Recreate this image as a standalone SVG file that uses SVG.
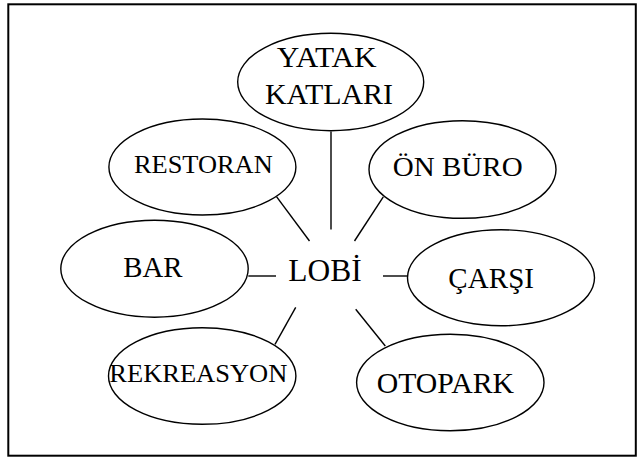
<svg xmlns="http://www.w3.org/2000/svg" width="637" height="457" viewBox="0 0 637 457">
<style>
.n ellipse{fill:#fff;stroke:#000;stroke-width:1.4}
.t{font-family:'Liberation Serif',Tinos,'Times New Roman',Times,serif;fill:#000}
.c line{stroke:#000;stroke-width:1.4}
</style>
<rect x="0" y="0" width="637" height="457" fill="#fff"/>
<rect x="8.3" y="4.3" width="627.5" height="451.4" fill="none" stroke="#000" stroke-width="2"/>
<g class="c" id="connectors">
<line x1="331" y1="131.5" x2="331" y2="229.5"/>
<line x1="276.5" y1="196.7" x2="309.5" y2="241"/>
<line x1="383.3" y1="196.8" x2="354.5" y2="241"/>
<line x1="248.3" y1="276" x2="276" y2="276"/>
<line x1="383" y1="276" x2="407.7" y2="276"/>
<line x1="295.7" y1="307.3" x2="275" y2="344.3"/>
<line x1="355.7" y1="309.3" x2="385.3" y2="346"/>
</g>
<g class="n" id="yatak"><ellipse cx="330.7" cy="82" rx="93" ry="48.7"/>
<text class="t" x="276.7" y="67.3" font-size="29" textLength="100" lengthAdjust="spacingAndGlyphs">YATAK</text>
<text class="t" x="265" y="104" font-size="29" textLength="128" lengthAdjust="spacingAndGlyphs">KATLARI</text></g>
<g class="n" id="restoran"><ellipse cx="202.4" cy="167" rx="93.5" ry="48"/>
<text class="t" x="134" y="173.3" font-size="25.5" textLength="138.7" lengthAdjust="spacingAndGlyphs">RESTORAN</text></g>
<g class="n" id="onburo"><ellipse cx="462.5" cy="169.5" rx="93.5" ry="48.8"/>
<text class="t" x="392.7" y="176" font-size="27" textLength="130" lengthAdjust="spacingAndGlyphs">ÖN BÜRO</text></g>
<g class="n" id="bar"><ellipse cx="154.5" cy="268.7" rx="93.7" ry="48.5"/>
<text class="t" x="123.3" y="277.3" font-size="29" textLength="59.3" lengthAdjust="spacingAndGlyphs">BAR</text></g>
<g id="lobi"><text class="t" x="288.3" y="280.7" font-size="31" textLength="73.4" lengthAdjust="spacingAndGlyphs">LOBİ</text></g>
<g class="n" id="carsi"><ellipse cx="501" cy="277.8" rx="93.5" ry="48"/>
<text class="t" x="448.3" y="288.3" font-size="29" textLength="85.7" lengthAdjust="spacing">ÇARŞI</text></g>
<g class="n" id="rekreasyon"><ellipse cx="202.2" cy="376" rx="93.7" ry="48.3"/>
<text class="t" x="109.3" y="381.7" font-size="26" textLength="178" lengthAdjust="spacingAndGlyphs">REKREASYON</text></g>
<g class="n" id="otopark"><ellipse cx="450.3" cy="382.5" rx="93.7" ry="48.2"/>
<text class="t" x="376.7" y="392.7" font-size="29" textLength="137.3" lengthAdjust="spacingAndGlyphs">OTOPARK</text></g>
</svg>
